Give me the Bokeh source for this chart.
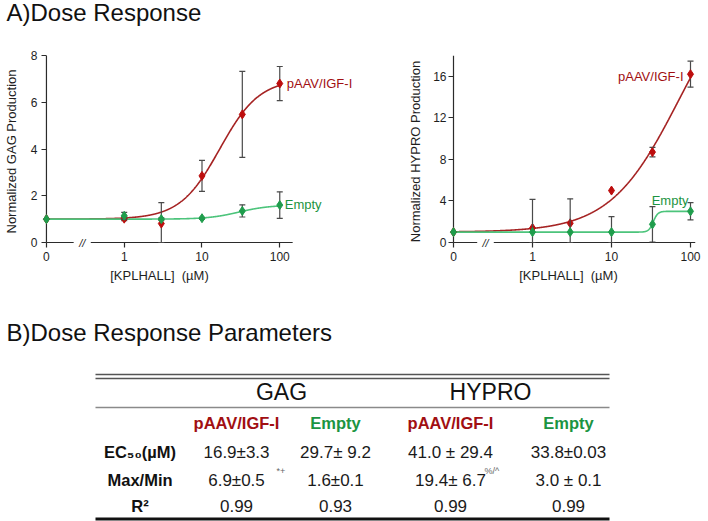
import numpy as np
from bokeh.plotting import figure
from bokeh.layouts import column, row
from bokeh.models import Range1d, FixedTicker, Label
from bokeh.core.properties import value
from bokeh.embed import file_html
from bokeh.resources import INLINE

FONT = "Liberation Sans"

# ------------------------------------------------------------------ data
doses = [0, 1, 3, 10, 33, 100]
dose_ticks = [0, 1, 10, 100]
dose_tick_labels = ["0", "1", "10", "100"]

# GAG panel
gag_igf = [1.0, 1.02, 0.81, 2.85, 5.48, 6.8]
gag_igf_err = [0.0, 0.08, 0.9, 0.66, 1.84, 0.73]
gag_empty = [1.0, 1.14, 1.0, 1.04, 1.35, 1.6]
gag_empty_err = [0.0, 0.15, 0.05, 0.04, 0.26, 0.57]

# HYPRO panel
hyp_igf = [1.0, 1.4, 1.85, 5.0, 8.7, 16.2]
hyp_igf_err = [0.0, 0.0, 0.0, 0.0, 0.45, 1.25]
hyp_empty = [1.0, 1.0, 1.0, 1.0, 1.75, 3.0]
hyp_empty_err = [0.0, 3.15, 3.2, 1.5, 1.7, 0.83]

# fitted dose-response curves (bottom, top, EC50, Hill slope)
gag_igf_fit = [1.0, 7.0, 16.9, 1.7]
gag_empty_fit = [1.0, 1.6, 29.7, 2.2]
hyp_igf_fit = [1.0, 26.4, 71.0, 1.0]
hyp_empty_fit = [1.0, 3.0, 33.8, 15.0]

series_names = ["pAAV/IGF-I", "Empty"]
x_axis_label = "[KPLHALL]\u00a0 (\u00b5M)"

# table
title_a = "A)Dose Response"
title_b = "B)Dose Response Parameters"
table_groups = ["GAG", "HYPRO"]
table_cols = ["pAAV/IGF-I", "Empty", "pAAV/IGF-I", "Empty"]
table_rows = ["EC\u2085\u2080(\u00b5M)", "Max/Min", "R\u00b2"]
ec50_vals = ["16.9\u00b13.3", "29.7\u00b1 9.2", "41.0 \u00b1 29.4", "33.8\u00b10.03"]
maxmin_vals = ["6.9\u00b10.5", "1.6\u00b10.1", "19.4\u00b1 6.7", "3.0 \u00b1 0.1"]
maxmin_sup = ["*+", "", "%/^", ""]
r2_vals = ["0.99", "0.93", "0.99", "0.99"]

# ------------------------------------------------------------------ style
RED = "#bd0d0d"
RED_LINE = "#a52323"
GREEN = "#1f9d4c"
GREEN_LINE = "#4cc47b"
RED_TXT = "#a10f12"
GREEN_TXT = "#1b9442"
ERR_C = "#4a4a4a"
AXIS_C = "#2b2b2b"
ZERO_POS = -1.0
PAD = 5            # px between frame edge and drawn axis lines
TOP_H = 40
ROW_H = 226
FRAME_H = 192


def dose_pos(d):
    return [ZERO_POS if v == 0 else float(np.log10(v)) for v in d]


def fit_curve(params):
    b, t, ec, h = params
    pos = np.linspace(ZERO_POS, 2.0, 801)
    conc = 10.0 ** pos
    return pos, b + (t - b) / (1.0 + (ec / conc) ** h)


def style_axis(ax, label_standoff):
    ax.axis_line_color = None
    ax.major_tick_line_color = AXIS_C
    ax.major_tick_line_width = 1.2
    ax.major_tick_in = PAD
    ax.major_tick_out = 0
    ax.minor_tick_line_color = None
    ax.major_label_text_font = FONT
    ax.major_label_text_font_size = "12px"
    ax.major_label_text_color = "#1e1e1e"
    ax.major_label_standoff = label_standoff
    ax.axis_label_text_font = FONT
    ax.axis_label_text_font_size = "13px"
    ax.axis_label_text_font_style = "normal"
    ax.axis_label_text_color = "#1e1e1e"


def add_series(p, ys, errs, color):
    xs = dose_pos(doses)
    y0 = 0.0
    xe = [x for x, e in zip(xs, errs) if e > 0]
    hi = [y + e for y, e in zip(ys, errs) if e > 0]
    lo = [max(y - e, y0) for y, e in zip(ys, errs) if e > 0]
    p.segment(x0=xe, y0=lo, x1=xe, y1=hi, line_color=ERR_C, line_width=1.2)
    p.scatter(xe, hi, marker="dash", size=6, line_color=ERR_C, line_width=1.2)
    p.scatter(xe, lo, marker="dash", size=6, line_color=ERR_C, line_width=1.2)
    p.scatter(xs, ys, marker="diamond", size=9, fill_color=color, line_color=color)


def make_panel(width, mb_left, mb_right, x_scale, y_end, y_ticks, y_label,
               tick_standoff, ylab_standoff, axis_end, brk, data, fits, label_specs):
    frame_w = width - mb_left - mb_right
    x_start = ZERO_POS - PAD / x_scale
    x_end = x_start + frame_w / x_scale
    y_scale = (FRAME_H - PAD) / y_end
    y_start = -PAD / y_scale
    p = figure(width=width, height=ROW_H,
               x_range=Range1d(x_start, x_end), y_range=Range1d(y_start, y_end),
               output_backend="svg", toolbar_location=None,
               min_border_left=mb_left, min_border_right=mb_right,
               min_border_top=15, min_border_bottom=ROW_H - 15 - FRAME_H)
    p.outline_line_color = None
    p.xgrid.visible = False
    p.ygrid.visible = False
    p.background_fill_color = "white"
    p.border_fill_color = "white"
    style_axis(p.xaxis[0], 4)
    style_axis(p.yaxis[0], tick_standoff)
    tick_pos = dose_pos(dose_ticks)
    p.xaxis.ticker = FixedTicker(ticks=tick_pos)
    p.xaxis.major_label_overrides = {tp: lab for tp, lab in zip(tick_pos, dose_tick_labels)}
    p.yaxis.ticker = FixedTicker(ticks=y_ticks)
    p.yaxis.axis_label = y_label
    p.yaxis.axis_label_standoff = ylab_standoff

    # axis lines (x axis drawn with a break)
    p.segment(x0=[ZERO_POS], y0=[0], x1=[ZERO_POS], y1=[y_end], line_color=AXIS_C, line_width=1.2)
    p.segment(x0=[ZERO_POS, brk[1]], y0=[0, 0], x1=[brk[0], axis_end], y1=[0, 0],
              line_color=AXIS_C, line_width=1.2)
    p.text(x=[(brk[0] + brk[1]) / 2], y=[0], text=["//"], text_align="center",
           text_baseline="middle", text_font=value(FONT), text_font_size="11px",
           text_font_style="italic", text_color="#222222")

    line_colors = [RED_LINE, GREEN_LINE]
    pt_colors = [RED, GREEN]
    for fit, lc in zip(fits, line_colors):
        cx, cy = fit_curve(fit)
        p.line(cx, cy, line_color=lc, line_width=1.6)
    for (ys, errs), pc in zip(data, pt_colors):
        add_series(p, ys, errs, pc)

    txt_colors = [RED_TXT, GREEN_TXT]
    xs = dose_pos(doses)
    for (ys, _), name, tc, (xo, yo, al) in zip(data, series_names, txt_colors, label_specs):
        p.add_layout(Label(x=xs[-1], y=ys[-1], x_offset=xo, y_offset=yo, text=name,
                           text_align=al, text_baseline="middle", text_font=FONT,
                           text_font_size="13px", text_color=tc))
    return p


p_gag = make_panel(365, 38, 5, 78.5, 8, [0, 2, 4, 6, 8], "Normalized GAG Production", 4, 9,
                   2.166, (-0.65, -0.43),
                   [(gag_igf, gag_igf_err), (gag_empty, gag_empty_err)],
                   [gag_igf_fit, gag_empty_fit],
                   [(7, 0, "left"), (5, 1, "left")])
p_hyp = make_panel(343, 83, 0, 79.0, 18, [0, 4, 8, 12, 16], "Normalized HYPRO Production", 2, 7,
                   2.06, (-0.70, -0.49),
                   [(hyp_igf, hyp_igf_err), (hyp_empty, hyp_empty_err)],
                   [hyp_igf_fit, hyp_empty_fit],
                   [(-7, -2, "right"), (-2, 11, "right")])


def blank(width, height):
    f = figure(width=width, height=height, x_range=Range1d(0, width), y_range=Range1d(height, 0),
               output_backend="svg", toolbar_location=None, min_border=0,
               x_axis_location=None, y_axis_location=None)
    f.outline_line_color = None
    f.xgrid.visible = False
    f.ygrid.visible = False
    f.background_fill_color = "white"
    f.border_fill_color = "white"
    return f


W = 708
# title A
p_a = blank(W, TOP_H)
p_a.text(x=[6], y=[11.5], text=[title_a], text_font=value(FONT), text_font_size="24px",
         text_baseline="middle", text_align="left", text_color="#111111")

# bottom part: x-axis labels, title B, table
T_H = 521 - TOP_H - ROW_H
p_t = blank(W, T_H)
p_t.text(x=[159, 568], y=[9, 9], text=[x_axis_label] * 2, text_font=value(FONT),
         text_font_size="13px", text_baseline="middle", text_align="center", text_color="#1e1e1e")
p_t.text(x=[6], y=[65.5], text=[title_b], text_font=value(FONT), text_font_size="24px",
         text_baseline="middle", text_align="left", text_color="#111111")

TBL_L, TBL_R = 95, 609
col_x = [236, 335, 450, 568]
group_x = [281, 490]
label_x = 139.5
y_group, y_head = 125.5, 156.5
row_y = [185.5, 213.5, 239.5]

p_t.segment(x0=[TBL_L, TBL_L], y0=[108, 112], x1=[TBL_R, TBL_R], y1=[108, 112],
            line_color="#555555", line_width=1.5)
p_t.segment(x0=[TBL_L], y0=[141], x1=[TBL_R], y1=[141], line_color="#8a8a8a", line_width=1.5)
p_t.segment(x0=[TBL_L], y0=[252.5], x1=[TBL_R], y1=[252.5], line_color="#111111", line_width=2.8)

p_t.text(x=group_x, y=[y_group] * 2, text=table_groups, text_font=value(FONT),
         text_font_size="23px", text_align="center", text_baseline="middle",
         text_color="#111111")
p_t.text(x=col_x, y=[y_head] * 4, text=table_cols, text_font=value(FONT),
         text_font_size="16.5px", text_font_style="bold", text_align="center",
         text_baseline="middle",
         text_color=[RED_TXT, GREEN_TXT, RED_TXT, GREEN_TXT])
p_t.text(x=[label_x] * 3, y=row_y, text=table_rows, text_font=value(FONT),
         text_font_size="16.5px", text_font_style="bold", text_align="center",
         text_baseline="middle", text_color="#111111")
for vals, yy in zip([ec50_vals, maxmin_vals, r2_vals], row_y):
    p_t.text(x=col_x, y=[yy] * 4, text=vals, text_font=value(FONT), text_font_size="17px",
             text_align="center", text_baseline="middle", text_color="#1a1a1a")
sup_x = [276, 0, 484, 0]
sx = [x for x, s in zip(sup_x, maxmin_sup) if s]
st = [s for s in maxmin_sup if s]
p_t.text(x=sx, y=[row_y[1] - 9.5] * len(sx), text=st, text_font=value(FONT),
         text_font_size="9px", text_align="left", text_baseline="middle", text_color="#666666")

layout = column(p_a, row(p_gag, p_hyp), p_t)
open("out.html", "w").write(file_html(layout, INLINE))
